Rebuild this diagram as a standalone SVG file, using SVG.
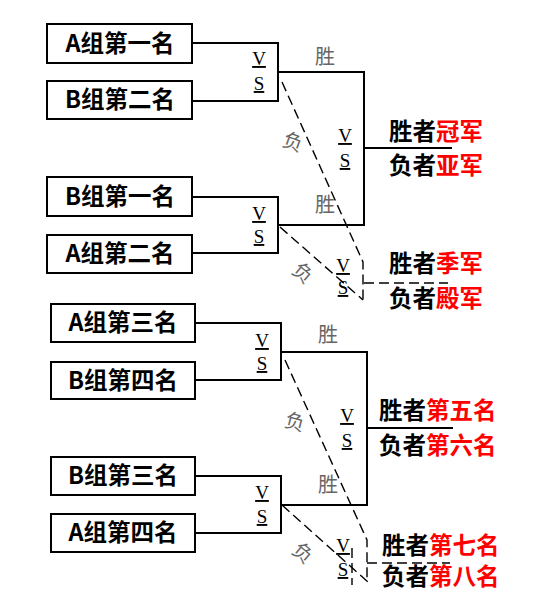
<svg xmlns="http://www.w3.org/2000/svg" width="551" height="607" viewBox="0 0 551 607">
<style>
.box{fill:#fff;stroke:#000;stroke-width:2}
.bt{font-family:"Noto Sans CJK SC","Noto Sans",sans-serif;font-weight:bold;font-size:23.5px;fill:#000;text-anchor:middle}
.ln{fill:none;stroke:#000;stroke-width:2}
.dl{fill:none;stroke:#000;stroke-width:1.4;stroke-dasharray:10,5}
.vs{font-family:"Liberation Serif",serif;font-size:19px;fill:#000;text-anchor:middle;text-decoration:underline}
.wl{font-family:"Noto Sans CJK SC",sans-serif;font-weight:normal;font-size:20px;fill:#666;text-anchor:middle}
.rt{font-family:"Noto Sans CJK SC","Noto Sans",sans-serif;font-weight:bold;font-size:23.5px;fill:#000}
.red{fill:#f00}
</style>
<rect width="551" height="607" fill="#fff"/>
<g id="connectors">
<path class="ln" d="M192,43 H278 V101 H192"/>
<path class="ln" d="M192,197 H278 V253 H192"/>
<path class="ln" d="M278,72 H364 V225 H278"/>
<path class="ln" d="M364,148 H452"/>
<path class="ln" d="M195,323 H281 V380 H195"/>
<path class="ln" d="M195,476 H281 V533 H195"/>
<path class="ln" d="M281,352 H367 V505 H281"/>
<path class="ln" d="M367,428 H453"/>
<path class="dl" d="M282,82 L363,262 V300"/>
<path class="dl" d="M280,227 L363,300"/>
<path class="dl" d="M364,283 H448"/>
<path class="dl" d="M285,360 L367,540 V582"/>
<path class="dl" d="M282,505 L368,582"/>
<path class="dl" d="M367,563 H450"/>
<path class="dl" d="M352,548 V585"/>
</g>
<g id="labels">
<text class="wl" x="325" y="64">胜</text>
<text class="wl" x="325" y="212">胜</text>
<text class="wl" x="328" y="342">胜</text>
<text class="wl" x="328" y="492">胜</text>
<text class="wl" transform="translate(293,142) rotate(20)" y="7">负</text>
<text class="wl" transform="translate(303,273) rotate(40)" y="7">负</text>
<text class="wl" transform="translate(295,422) rotate(15)" y="7">负</text>
<text class="wl" transform="translate(303,553) rotate(40)" y="7">负</text>
<text class="vs" x="259" y="65">V</text><text class="vs" x="259" y="90">S</text>
<text class="vs" x="259" y="220">V</text><text class="vs" x="259" y="243">S</text>
<text class="vs" x="345" y="142">V</text><text class="vs" x="345" y="167">S</text>
<text class="vs" x="343" y="272">V</text><text class="vs" x="343" y="294">S</text>
<text class="vs" x="262" y="347">V</text><text class="vs" x="262" y="370">S</text>
<text class="vs" x="262" y="499">V</text><text class="vs" x="262" y="523">S</text>
<text class="vs" x="347" y="422">V</text><text class="vs" x="347" y="447">S</text>
<text class="vs" x="343" y="552">V</text><text class="vs" x="343" y="576">S</text>
</g>
<g id="n-a1"><rect class="box" x="47" y="24" width="145" height="39"/><text class="bt" x="120" y="52">A组第一名</text></g>
<g id="n-b2"><rect class="box" x="47" y="81" width="145" height="38"/><text class="bt" x="120" y="108">B组第二名</text></g>
<g id="n-b1"><rect class="box" x="47" y="177" width="145" height="39"/><text class="bt" x="120" y="205">B组第一名</text></g>
<g id="n-a2"><rect class="box" x="47" y="235" width="145" height="38"/><text class="bt" x="120" y="262">A组第二名</text></g>
<g id="n-a3"><rect class="box" x="51" y="304" width="144" height="38"/><text class="bt" x="123" y="331">A组第三名</text></g>
<g id="n-b4"><rect class="box" x="51" y="362" width="144" height="37"/><text class="bt" x="123" y="389">B组第四名</text></g>
<g id="n-b3"><rect class="box" x="51" y="457" width="144" height="38"/><text class="bt" x="123" y="484">B组第三名</text></g>
<g id="n-a4"><rect class="box" x="51" y="514" width="144" height="38"/><text class="bt" x="123" y="541">A组第四名</text></g>
<g id="r-1"><text class="rt" x="389" y="140">胜者<tspan class="red">冠军</tspan></text></g>
<g id="r-2"><text class="rt" x="389" y="174">负者<tspan class="red">亚军</tspan></text></g>
<g id="r-3"><text class="rt" x="389" y="272">胜者<tspan class="red">季军</tspan></text></g>
<g id="r-4"><text class="rt" x="389" y="307">负者<tspan class="red">殿军</tspan></text></g>
<g id="r-5"><text class="rt" x="379" y="419">胜者<tspan class="red">第五名</tspan></text></g>
<g id="r-6"><text class="rt" x="379" y="454">负者<tspan class="red">第六名</tspan></text></g>
<g id="r-7"><text class="rt" x="382" y="554">胜者<tspan class="red">第七名</tspan></text></g>
<g id="r-8"><text class="rt" x="382" y="585">负者<tspan class="red">第八名</tspan></text></g>
</svg>
